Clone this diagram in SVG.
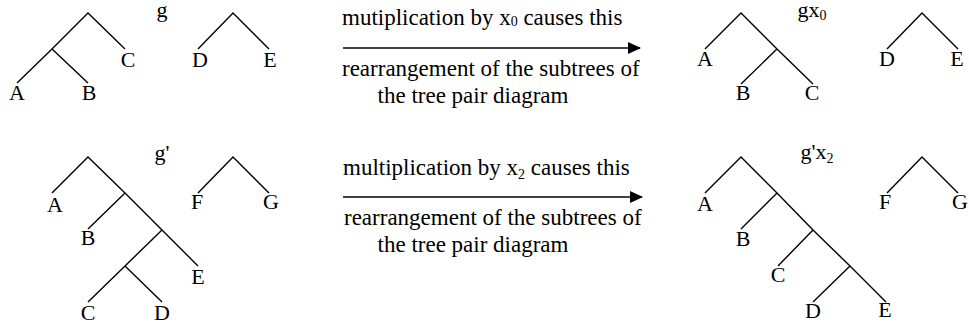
<svg xmlns="http://www.w3.org/2000/svg" width="969" height="327" viewBox="0 0 969 327">
<style>
.e{stroke:#000;stroke-width:1.4;fill:none}
text{font-family:'Liberation Serif','DejaVu Serif',serif;fill:#000}
.l{font-size:22px;text-anchor:middle}
.t{font-size:23px}
.s{font-size:14px}
</style>
<defs>
<marker id="ah" markerWidth="13" markerHeight="12" refX="12" refY="6" orient="auto" markerUnits="userSpaceOnUse">
<path d="M0,0 L13,6 L0,12 Z" fill="#000"/>
</marker>
</defs>
<rect width="969" height="327" fill="#fff"/>
<g id="connectors">
<path class="e" d="M17,83 L52,49 L88,13 L125,49 M52,49 L88,83"/>
<path class="e" d="M198,49 L233,13 L269,49"/>
<path class="e" d="M705,49 L741,13 L777,49 L813,84 M777,49 L741,84"/>
<path class="e" d="M887,49 L922,13 L958,49"/>
<path class="e" d="M52,193 L88,157 L125,193 L162,230 L198,266 M125,193 L88,229 M162,230 L125,266 L88,302 M125,266 L162,302"/>
<path class="e" d="M198,193 L233,157 L269,193"/>
<path class="e" d="M705,193 L741,157 L777,193 L813,230 L850,266 L886,302 M777,193 L741,229 M813,230 L778,266 M850,266 L813,302"/>
<path class="e" d="M887,193 L922,157 L958,193"/>
<line class="e" x1="343" y1="48" x2="640" y2="48" marker-end="url(#ah)"/>
<line class="e" x1="343" y1="197" x2="642" y2="197" marker-end="url(#ah)"/>
</g>
<g id="tree-g">
<text class="l" x="162" y="17">g</text>
<text class="l" x="17" y="100">A</text>
<text class="l" x="89" y="100">B</text>
<text class="l" x="128" y="67">C</text>
<text class="l" x="200" y="67">D</text>
<text class="l" x="270" y="67">E</text>
</g>
<g id="tree-gx0">
<text class="l" x="812" y="17">gx<tspan class="s" dy="3">0</tspan></text>
<text class="l" x="705" y="66">A</text>
<text class="l" x="743" y="100">B</text>
<text class="l" x="812" y="100">C</text>
<text class="l" x="887" y="66">D</text>
<text class="l" x="957" y="66">E</text>
</g>
<g id="tree-gp">
<text class="l" x="162" y="160">g'</text>
<text class="l" x="55" y="212">A</text>
<text class="l" x="88" y="245">B</text>
<text class="l" x="198" y="284">E</text>
<text class="l" x="88" y="320">C</text>
<text class="l" x="162" y="320">D</text>
<text class="l" x="197" y="209">F</text>
<text class="l" x="271" y="209">G</text>
</g>
<g id="tree-gpx2">
<text class="l" x="817" y="159">g'x<tspan class="s" dy="4">2</tspan></text>
<text class="l" x="705" y="211">A</text>
<text class="l" x="743" y="246">B</text>
<text class="l" x="778" y="282">C</text>
<text class="l" x="813" y="318">D</text>
<text class="l" x="885" y="317">E</text>
<text class="l" x="885" y="209">F</text>
<text class="l" x="960" y="209">G</text>
</g>
<g id="label-1">
<text class="t" x="342" y="25">mutiplication by x<tspan class="s" dy="1">0</tspan><tspan dy="-1"> causes this</tspan></text>
<text class="t" x="342" y="76">rearrangement of the subtrees of</text>
<text class="t" x="473" y="103" text-anchor="middle">the tree pair diagram</text>
</g>
<g id="label-2">
<text class="t" x="343" y="175">multiplication by x<tspan class="s" dy="4">2</tspan><tspan dy="-4"> causes this</tspan></text>
<text class="t" x="344" y="225">rearrangement of the subtrees of</text>
<text class="t" x="473" y="252" text-anchor="middle">the tree pair diagram</text>
</g>
</svg>
